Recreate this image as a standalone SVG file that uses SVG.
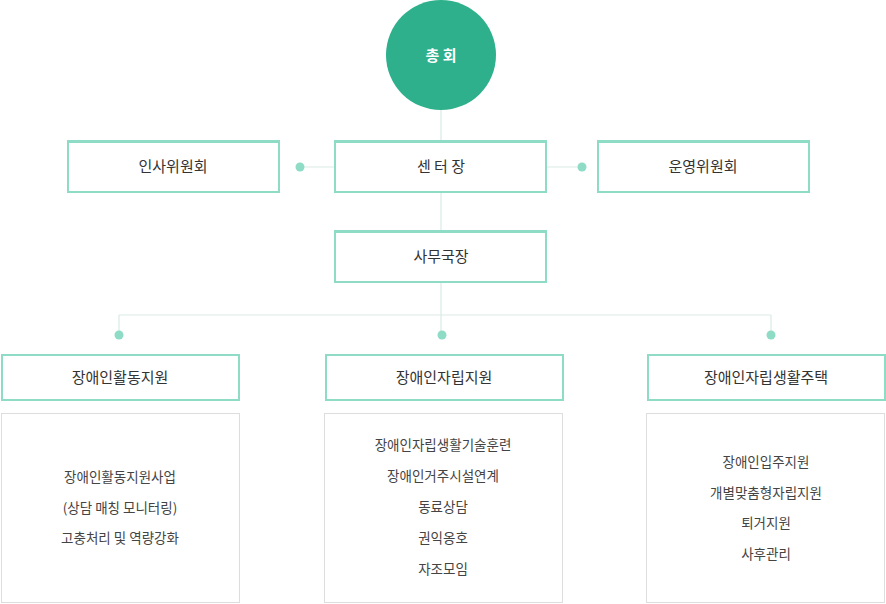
<svg xmlns="http://www.w3.org/2000/svg" width="886" height="604" viewBox="0 0 886 604">
<style>
text{font-family:"Noto Sans CJK KR","Noto Sans",sans-serif;text-anchor:middle;fill:#333}
.h{font-size:15px}
.b{font-size:13.5px;fill:#444}
.box{fill:#fff;stroke:#8edcc5;stroke-width:2}
.cont{fill:#fff;stroke:#ddd;stroke-width:1}
.ln{stroke:#d9ece6;stroke-width:1.2;fill:none}
.dot{fill:#8edcc5}
</style>
<g id="connectors">
<path class="ln" d="M441 110V141M441 192V231M441 282V335M119 315H771M119 315V335M771 315V335M300 167H334M547 167H582"/>
<circle class="dot" cx="300" cy="167" r="4.5"/><circle class="dot" cx="582" cy="167" r="4.5"/>
<circle class="dot" cx="119" cy="335" r="4.5"/><circle class="dot" cx="442" cy="335" r="4.5"/><circle class="dot" cx="771" cy="335" r="4.5"/>
</g>
<g id="n-assembly"><circle cx="441" cy="55" r="55" fill="#2db08b"/><text x="441" y="61" style="fill:#fff;font-size:15px;font-weight:bold">총   회</text></g>
<g id="n-personnel"><rect class="box" x="68" y="142" width="211" height="50"/><rect x="67" y="140" width="213" height="3" fill="#8edcc5"/><text class="h" x="173" y="172">인사위원회</text></g>
<g id="n-director"><rect class="box" x="335" y="142" width="211" height="50"/><rect x="334" y="140" width="213" height="3" fill="#8edcc5"/><text class="h" x="441" y="172">센 터 장</text></g>
<g id="n-operation"><rect class="box" x="598" y="142" width="211" height="50"/><rect x="597" y="140" width="213" height="3" fill="#8edcc5"/><text class="h" x="703" y="172">운영위원회</text></g>
<g id="n-secretary"><rect class="box" x="335" y="232" width="211" height="50"/><rect x="334" y="230" width="213" height="3" fill="#8edcc5"/><text class="h" x="441" y="262">사무국장</text></g>
<g id="n-activity"><rect class="box" x="2" y="355" width="237" height="45"/><text class="h" x="120" y="383">장애인활동지원</text>
<rect class="cont" x="1.5" y="413.5" width="238" height="189"/>
<text class="b" x="120" y="482">장애인활동지원사업</text><text class="b" x="120" y="513">(상담 매칭 모니터링)</text><text class="b" x="120" y="543">고충처리 및 역량강화</text></g>
<g id="n-independence"><rect class="box" x="326" y="355" width="237" height="45"/><text class="h" x="444" y="383">장애인자립지원</text>
<rect class="cont" x="324.5" y="413.5" width="238" height="189"/>
<text class="b" x="443" y="450">장애인자립생활기술훈련</text><text class="b" x="443" y="481">장애인거주시설연계</text><text class="b" x="443" y="512">동료상담</text><text class="b" x="443" y="543">권익옹호</text><text class="b" x="443" y="574">자조모임</text></g>
<g id="n-housing"><rect class="box" x="648" y="355" width="237" height="45"/><text class="h" x="766" y="383">장애인자립생활주택</text>
<rect class="cont" x="646.5" y="413.5" width="238" height="189"/>
<text class="b" x="766" y="467">장애인입주지원</text><text class="b" x="766" y="498">개별맞춤형자립지원</text><text class="b" x="766" y="528">퇴거지원</text><text class="b" x="766" y="559">사후관리</text></g>
</svg>
